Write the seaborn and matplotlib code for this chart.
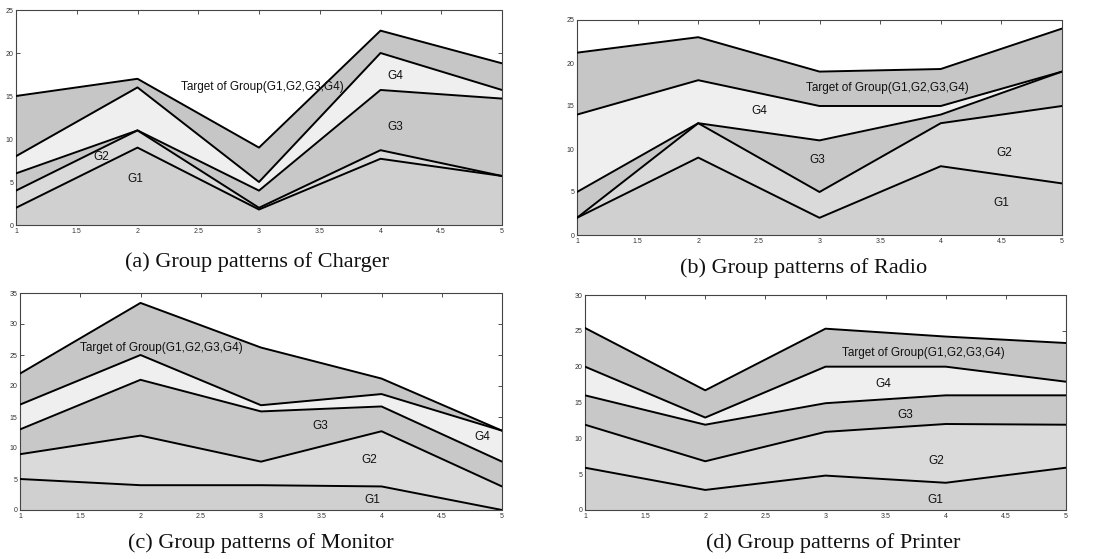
import numpy as np
import pandas as pd
import matplotlib
matplotlib.use("Agg")
import matplotlib.pyplot as plt
import seaborn as sns

# ---------------- data ----------------
x_pos = [1, 2, 3, 4, 5]
x_ticks = [1, 1.5, 2, 2.5, 3, 3.5, 4, 4.5, 5]
x_tick_labels = ["1", "1.5", "2", "2.5", "3", "3.5", "4", "4.5", "5"]
groups = ["G1", "G2", "G3", "G4", "Target"]

# upper boundary of each group band (cumulative), per product
charger_g1 = [2, 9, 1.8, 7.7, 5.7]
charger_g2 = [4, 11, 2, 8.7, 5.7]
charger_g3 = [6, 11, 4, 15.7, 14.7]
charger_g4 = [8, 16, 5, 20, 15.7]
charger_target = [15, 17, 9, 22.6, 18.8]

radio_g1 = [2, 9, 2, 8, 6]
radio_g2 = [2, 13, 5, 13, 15]
radio_g3 = [5, 13, 11, 14, 19]
radio_g4 = [14, 18, 15, 15, 19]
radio_target = [21.2, 23, 19, 19.3, 24]

monitor_g1 = [5, 4, 4, 3.8, 0]
monitor_g2 = [9, 12, 7.8, 12.7, 3.8]
monitor_g3 = [13, 21, 15.9, 16.7, 7.8]
monitor_g4 = [17, 25, 16.9, 18.7, 12.8]
monitor_target = [22, 33.4, 26.2, 21.2, 12.8]

printer_g1 = [5.9, 2.8, 4.8, 3.8, 5.9]
printer_g2 = [11.9, 6.8, 10.9, 12, 11.9]
printer_g3 = [16, 11.9, 14.9, 16, 16]
printer_g4 = [20, 12.9, 20, 20, 17.9]
printer_target = [25.4, 16.7, 25.3, 24.2, 23.3]

captions = ["(a) Group patterns of Charger", "(b) Group patterns of Radio",
            "(c) Group patterns of Monitor", "(d) Group patterns of Printer"]
y_max = [25, 25, 35, 30]
target_text = "Target of Group(G1,G2,G3,G4)"

# label positions (x, y) per panel: G1, G2, G3, G4, Target
label_pos = [
    [(1.98, 5.4), (1.7, 7.9), (4.12, 11.4), (4.12, 17.3), (3.03, 16.1)],
    [(4.5, 3.7), (4.52, 9.5), (2.98, 8.7), (2.5, 14.4), (3.56, 17.1)],
    [(3.92, 1.6), (3.9, 8.0), (3.49, 13.6), (4.84, 11.8), (2.17, 26.2)],
    [(3.91, 1.4), (3.92, 6.9), (3.66, 13.3), (3.48, 17.6), (3.81, 21.9)],
]

panels = [
    [charger_g1, charger_g2, charger_g3, charger_g4, charger_target],
    [radio_g1, radio_g2, radio_g3, radio_g4, radio_target],
    [monitor_g1, monitor_g2, monitor_g3, monitor_g4, monitor_target],
    [printer_g1, printer_g2, printer_g3, printer_g4, printer_target],
]

band_colors = ["#d0d0d0", "#dadada", "#c8c8c8", "#efefef", "#c6c6c6"]

# ---------------- figure ----------------
sns.set_theme(style="white")
plt.rcParams["font.family"] = ["Liberation Sans", "DejaVu Sans"]

fig = plt.figure(figsize=(11.04, 5.59), dpi=100)
ax_rects = [
    [16 / 1104, 1 - 225 / 559, 486 / 1104, 215 / 559],
    [577 / 1104, 1 - 235 / 559, 485 / 1104, 215 / 559],
    [20 / 1104, 1 - 510 / 559, 482 / 1104, 217 / 559],
    [585 / 1104, 1 - 510 / 559, 481 / 1104, 215 / 559],
]
caption_pos = [(257, 262), (804, 268), (261, 543), (833, 543)]

for i, (rect, series) in enumerate(zip(ax_rects, panels)):
    ax = fig.add_axes(rect)
    ax.set_facecolor("white")
    lower = [0] * len(x_pos)
    for j, upper in enumerate(series):
        ax.fill_between(x_pos, lower, upper, color=band_colors[j], linewidth=0, zorder=1)
        lower = upper
    df = pd.DataFrame({
        "x": x_pos * len(groups),
        "y": [v for s in series for v in s],
        "group": [g for g in groups for _ in x_pos],
    })
    sns.lineplot(data=df, x="x", y="y", units="group", estimator=None,
                 color="black", linewidth=1.4, ax=ax, zorder=3, legend=False)
    for j, (lx, ly) in enumerate(label_pos[i]):
        txt = target_text if groups[j] == "Target" else groups[j]
        ax.text(lx, ly, txt, ha="center", va="center", fontsize=8.5, color="#111111", zorder=4)
    ax.set_xlim(1, 5)
    ax.set_ylim(0, y_max[i])
    ax.set_xticks(x_ticks)
    ax.set_xticklabels(x_tick_labels)
    ax.set_yticks(np.arange(0, y_max[i] + 1, 5))
    ax.set_xlabel("")
    ax.set_ylabel("")
    ax.tick_params(direction="in", length=3, width=0.6, labelsize=5, pad=2,
                   top=True, right=True, bottom=True, left=True, colors="#333333")
    for sp in ax.spines.values():
        sp.set_visible(True)
        sp.set_color("#444444")
        sp.set_linewidth(0.8)
        sp.set_linestyle((0, (1, 1)))
    cx, cy = caption_pos[i]
    fig.text(cx / 1104, 1 - cy / 559, captions[i], ha="center", va="center",
             fontsize=16, family=["Liberation Serif", "DejaVu Serif"], color="#111111")

fig.savefig("out.png", dpi=100)
